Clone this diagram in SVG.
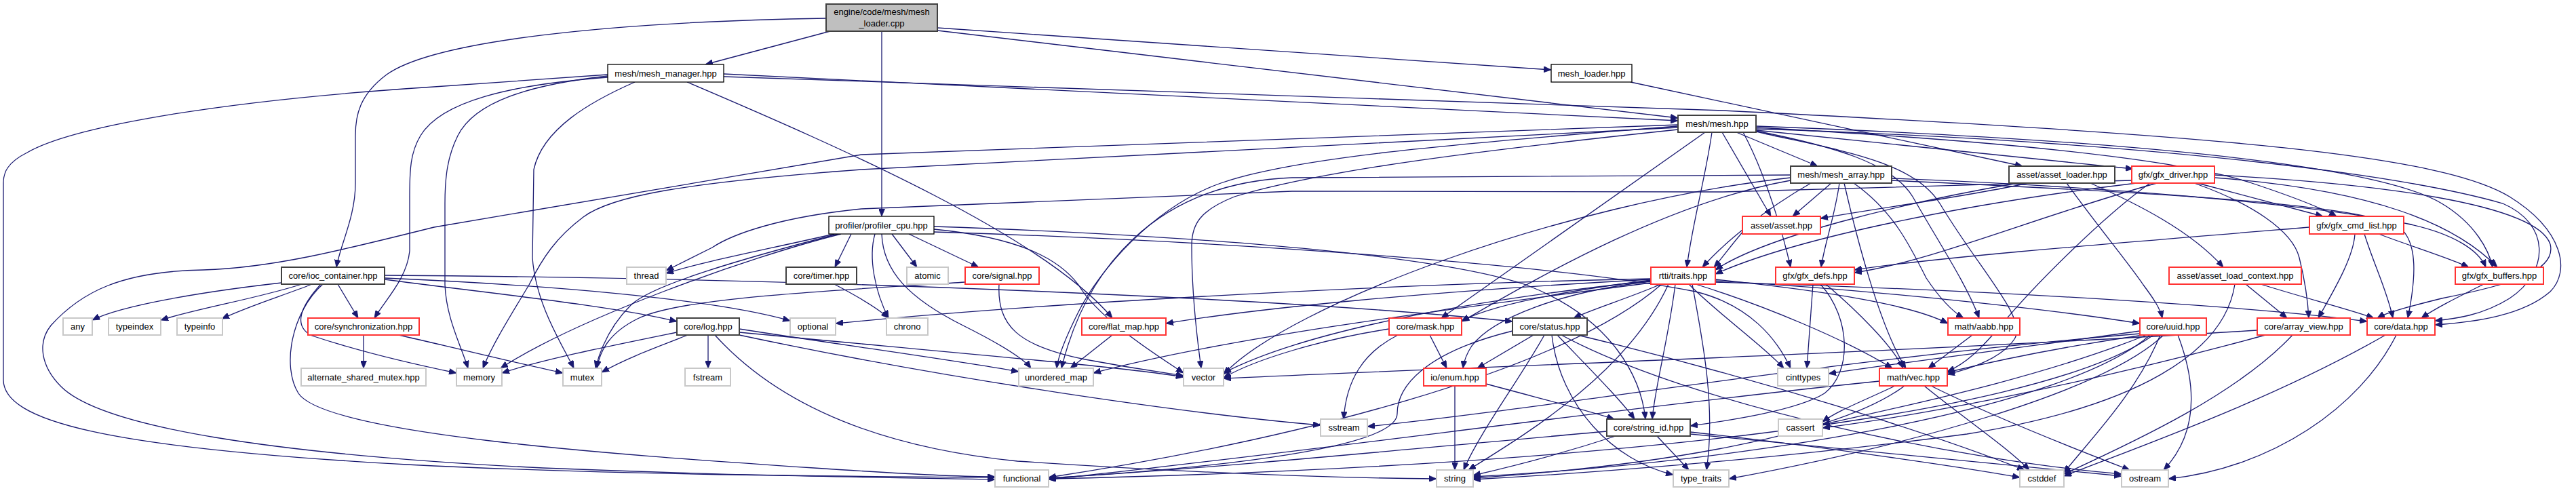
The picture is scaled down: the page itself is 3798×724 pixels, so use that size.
<svg xmlns="http://www.w3.org/2000/svg" width="3798" height="724" viewBox="0 0 3798 724">
<defs>
<marker id="ah" markerWidth="11" markerHeight="9" refX="11" refY="4.5" orient="auto" markerUnits="userSpaceOnUse"><path d="M0,0 L11,4.5 L0,9 z" fill="#191970" stroke="#191970" stroke-width="0.8"/></marker>
<style>
.e path{fill:none;stroke:#191970;stroke-width:1.3;marker-end:url(#ah)}
.d rect{fill:#fff;stroke:#404040;stroke-width:2}
.k rect{fill:#fff;stroke:#000;stroke-width:1.3}
.g rect{fill:#fff;stroke:#c8c8c8;stroke-width:2}
.r rect{fill:#fff;stroke:#ff3333;stroke-width:2}
.root rect{fill:#bfbfbf;stroke:#404040;stroke-width:2}
text{font-family:"Liberation Sans",Arial,Helvetica,sans-serif;font-size:13px;fill:#000;text-anchor:middle}
</style>
</defs>
<rect width="3798" height="724" fill="#fff"/>
<g id="edges" class="e">
<path d="M1224,46 L1040,95"/>
<path d="M1382,41 L2287,103"/>
<path d="M1382,45 L2474,174"/>
<path d="M1300,46 L1300,319"/>
<path d="M1218,27 C900,32 640,60 570,110 C530,140 524,170 524,200 L524,270 C524,320 502,360 496,394"/>
<path d="M1067,109 L2474,178"/>
<path d="M1067,113 L2540,163 C3300,200 3600,230 3700,290 C3780,340 3790,400 3760,430 C3720,465 3650,475 3590,479"/>
<path d="M896,114 C750,125 650,150 620,200 C605,225 604,250 604,290 L604,370 C600,410 570,440 552,469"/>
<path d="M896,112 C780,125 700,150 675,200 C660,230 656,260 656,300 L656,420 C658,470 680,510 690,543"/>
<path d="M936,121 C870,150 800,190 787,250 L785,380 C790,450 830,510 846,543"/>
<path d="M1013,121 C1250,222 1540,350 1640,469"/>
<path d="M896,110 L640,128 C300,150 100,190 40,225 C10,240 5,255 5,270 L5,560 C5,620 150,660 600,685 C900,700 1200,702 1467,704"/>
<path d="M2404,121 L2982,245"/>
<path d="M2560,195 L2680,245"/>
<path d="M2539,195 L2611,319"/>
<path d="M2589,192 L3145,249"/>
<path d="M2589,188 C2900,205 3200,230 3320,270 C3380,290 3420,305 3445,319"/>
<path d="M2524,195 C2515,260 2495,330 2487,394"/>
<path d="M2570,195 C2605,260 2630,350 2640,394"/>
<path d="M2589,186 C3100,205 3500,240 3600,300 C3650,330 3670,370 3675,394"/>
<path d="M2514,195 L2125,469"/>
<path d="M2589,193 C2700,215 2790,240 2820,290 C2860,360 2900,420 2918,469"/>
<path d="M2589,194 C2700,220 2820,235 2860,300 C2920,400 2990,470 2970,500 C2950,530 2900,545 2871,552"/>
<path d="M2474,188 L1270,250 C1000,270 900,290 860,320 C820,350 800,380 780,420 C750,470 725,510 712,543"/>
<path d="M2474,184 L1270,228 L640,335 C500,370 400,395 300,398 C180,400 120,430 75,480 C55,505 60,540 90,570 C150,630 400,670 800,690 C1100,702 1300,704 1467,707"/>
<path d="M2474,191 C2200,220 1950,250 1820,290 C1770,310 1757,330 1757,362 C1757,430 1765,500 1771,543"/>
<path d="M2474,186 C2100,215 1900,235 1800,270 C1700,305 1620,400 1590,460 C1570,500 1560,525 1558,543"/>
<path d="M2589,190 C3200,210 3550,260 3690,300 C3760,330 3760,400 3700,440 C3660,465 3620,470 3590,473"/>
<path d="M2700,270 L2643,319"/>
<path d="M2670,270 C2600,310 2540,360 2510,394"/>
<path d="M2712,270 C2705,320 2690,360 2685,394"/>
<path d="M2719,270 C2735,340 2770,480 2810,543"/>
<path d="M2733,270 C2790,310 2815,360 2840,410 C2860,440 2880,460 2895,469"/>
<path d="M2789,263 C3100,275 3400,300 3550,330 C3620,345 3655,370 3665,394"/>
<path d="M2640,266 C2450,300 2250,420 2155,474"/>
<path d="M2640,262 C2300,300 1900,450 1804,552"/>
<path d="M2640,258 L1905,262 C1700,270 1600,400 1565,543"/>
<path d="M2789,266 C3200,285 3450,300 3530,330 C3570,350 3560,420 3550,469"/>
<path d="M2990,270 C2900,290 2780,305 2684,322"/>
<path d="M3082,270 C3150,300 3230,340 3278,394"/>
<path d="M3047,270 C3090,330 3140,390 3160,420 C3175,440 3185,455 3188,469"/>
<path d="M2975,270 C2800,300 2600,350 2529,398"/>
<path d="M3240,270 L3425,319"/>
<path d="M3143,266 L2540,283 L1905,282 L1270,308 C1150,320 1080,345 1050,365 C1020,380 1000,390 982,399"/>
<path d="M3180,270 C3000,320 2850,385 2734,402"/>
<path d="M3150,270 C2900,300 2650,350 2529,404"/>
<path d="M3265,262 C3500,280 3620,330 3682,394"/>
<path d="M3235,270 C3320,300 3380,340 3390,380 C3400,420 3403,450 3404,469"/>
<path d="M3265,258 C3500,270 3740,300 3760,360 C3770,400 3700,420 3600,440 C3560,450 3520,460 3505,469"/>
<path d="M3170,270 C3100,320 3000,420 2950,480 C2920,515 2900,535 2871,548"/>
<path d="M1230,345 C1120,370 1040,385 982,403"/>
<path d="M1255,345 L1231,394"/>
<path d="M1315,345 L1352,394"/>
<path d="M1340,345 L1443,394"/>
<path d="M1290,345 C1280,380 1290,430 1310,469"/>
<path d="M1300,345 C1302,400 1340,440 1420,480 C1480,510 1510,530 1520,543"/>
<path d="M1240,345 C1100,380 850,470 738,543"/>
<path d="M1235,345 C1100,380 960,420 930,450 C900,480 885,515 878,543"/>
<path d="M1377,338 C1500,350 1560,380 1590,420 C1620,470 1700,520 1745,550"/>
<path d="M1377,334 C1700,345 2100,370 2250,420 C2380,470 2420,560 2426,618"/>
<path d="M1377,342 C1800,355 2300,390 2500,430 C2580,450 2620,500 2640,543"/>
<path d="M415,417 C300,430 180,450 136,472"/>
<path d="M445,419 C380,440 290,455 237,472"/>
<path d="M460,419 C420,435 370,450 327,470"/>
<path d="M498,419 L528,469"/>
<path d="M567,412 C700,430 900,450 998,474"/>
<path d="M567,410 C800,420 1050,440 1165,473"/>
<path d="M567,406 C1200,410 1900,440 2230,474"/>
<path d="M473,419 C445,450 430,480 460,495 C520,515 600,535 673,550"/>
<path d="M476,419 C430,460 415,540 440,580 C480,640 900,670 1200,690 C1350,700 1420,703 1467,703"/>
<path d="M536,494 L536,543"/>
<path d="M588,494 C680,515 760,535 830,550"/>
<path d="M1230,419 C1270,440 1295,455 1310,469"/>
<path d="M1473,419 C1470,480 1500,510 1600,530 C1680,545 1720,550 1745,554"/>
<path d="M1423,416 C1200,430 1000,440 940,470 C900,490 885,515 880,543"/>
<path d="M998,490 C900,510 800,530 740,550"/>
<path d="M1014,494 C960,515 920,530 887,549"/>
<path d="M1044,494 L1044,543"/>
<path d="M1054,494 C1150,600 1300,660 1500,680 C1800,700 2000,705 2118,706"/>
<path d="M1090,485 C1250,510 1400,530 1502,548"/>
<path d="M1090,490 C1400,520 1650,540 1745,556"/>
<path d="M1090,494 C1400,560 1750,610 1947,627"/>
<path d="M2434,412 C2100,430 1850,455 1719,477"/>
<path d="M2434,413 C2300,430 2200,450 2155,473"/>
<path d="M2449,419 C2400,440 2350,455 2320,469"/>
<path d="M2434,415 C2300,430 2200,470 2170,510 C2160,525 2158,535 2157,543"/>
<path d="M2434,411 C2000,420 1500,450 1232,477"/>
<path d="M2529,412 C2700,430 2820,450 2872,477"/>
<path d="M2500,419 C2600,450 2720,500 2790,543"/>
<path d="M2529,414 C2800,430 3050,460 3155,477"/>
<path d="M2529,416 C3000,430 3350,455 3490,474"/>
<path d="M2490,419 C2530,460 2600,510 2630,543"/>
<path d="M2495,419 C2510,500 2530,600 2516,693"/>
<path d="M2460,419 C2400,550 2250,640 2165,693"/>
<path d="M2434,414 C2100,450 1900,500 1804,550"/>
<path d="M2434,417 C2100,460 1800,500 1612,550"/>
<path d="M2470,419 C2460,500 2440,570 2436,618"/>
<path d="M2450,419 C2300,550 1900,650 1546,704"/>
<path d="M2673,419 L2664,543"/>
<path d="M2692,419 C2740,460 2790,510 2806,543"/>
<path d="M2684,419 C2730,470 2730,550 2690,580 C2650,605 2550,620 2492,628"/>
<path d="M3311,419 L3372,469"/>
<path d="M3333,419 C3400,440 3460,455 3500,469"/>
<path d="M3295,419 C3280,520 3150,600 2900,640 C2600,680 2300,700 2172,707"/>
<path d="M3662,419 C3620,440 3590,455 3570,469"/>
<path d="M3472,345 C3470,380 3440,430 3418,469"/>
<path d="M3486,345 C3500,390 3520,430 3528,469"/>
<path d="M3507,345 C3560,365 3610,380 3640,394"/>
<path d="M3405,335 C3100,360 2850,380 2734,398"/>
<path d="M2590,319 C2560,350 2540,380 2527,394"/>
<path d="M1640,494 L1578,543"/>
<path d="M2108,494 L2133,543"/>
<path d="M2061,494 C2010,520 1985,560 1981,618"/>
<path d="M2048,485 C1950,500 1850,530 1804,557"/>
<path d="M2261,494 L2178,543"/>
<path d="M2296,494 C2340,540 2390,590 2410,618"/>
<path d="M2277,494 C2240,560 2180,640 2158,693"/>
<path d="M2288,494 C2300,600 2380,680 2467,700"/>
<path d="M2230,488 C2100,520 2060,570 2060,610 C2060,660 1800,690 1546,705"/>
<path d="M2326,494 C2600,560 2850,640 2985,693"/>
<path d="M2302,494 C2500,600 2900,680 3128,699"/>
<path d="M2908,494 L2843,543"/>
<path d="M3155,488 C3000,510 2800,535 2696,551"/>
<path d="M3160,494 C3050,510 2950,530 2871,549"/>
<path d="M3165,494 C3000,560 2800,600 2687,626"/>
<path d="M3170,494 C3050,600 2600,680 2172,703"/>
<path d="M3175,494 C3000,620 2300,690 1546,706"/>
<path d="M3211,494 C3240,570 3240,640 3190,693"/>
<path d="M3185,494 C3150,580 3080,650 3043,697"/>
<path d="M3155,492 C2700,530 2300,600 2016,629"/>
<path d="M3190,494 C3100,580 2800,660 2549,706"/>
<path d="M3380,494 C3300,580 3150,650 3043,699"/>
<path d="M3328,487 C2800,520 2200,540 1804,558"/>
<path d="M3340,494 C3100,560 2850,610 2687,631"/>
<path d="M3533,494 C3480,600 3350,690 3197,706"/>
<path d="M3517,494 C3350,590 3150,660 3043,702"/>
<path d="M2145,569 L2145,693"/>
<path d="M2191,566 C2280,590 2340,605 2380,618"/>
<path d="M2794,569 C2750,590 2710,605 2687,622"/>
<path d="M2837,569 C2900,620 2960,660 2992,693"/>
<path d="M2847,569 C2950,620 3080,670 3140,693"/>
<path d="M2771,562 C2400,600 1900,670 1546,707"/>
<path d="M2808,569 C2700,650 2400,690 2172,705"/>
<path d="M2382,643 C2300,670 2220,690 2172,701"/>
<path d="M2369,636 C2100,660 1800,690 1546,705"/>
<path d="M2443,643 L2490,693"/>
<path d="M2492,637 C2700,660 2900,690 2978,704"/>
<path d="M2492,640 C2800,670 3000,690 3128,702"/>
</g>
<g id="node-mesh-loader-cpp" class="root"><rect x="1218" y="6" width="164" height="40"/><text x="1300" y="22">engine/code/mesh/mesh</text><text x="1300" y="39">_loader.cpp</text></g>
<g id="node-mesh-manager" class="k"><rect x="896" y="95" width="171" height="26"/><text x="981.5" y="113">mesh/mesh_manager.hpp</text></g>
<g id="node-mesh-loader-hpp" class="k"><rect x="2287" y="95" width="119" height="26"/><text x="2346.5" y="113">mesh_loader.hpp</text></g>
<g id="node-mesh" class="d"><rect x="2474" y="170" width="115" height="25"/><text x="2531.5" y="187">mesh/mesh.hpp</text></g>
<g id="node-mesh-array" class="d"><rect x="2640" y="245" width="149" height="25"/><text x="2714.5" y="262">mesh/mesh_array.hpp</text></g>
<g id="node-asset-loader" class="d"><rect x="2962" y="245" width="156" height="25"/><text x="3040" y="262">asset/asset_loader.hpp</text></g>
<g id="node-gfx-driver" class="r"><rect x="3143" y="245" width="122" height="25"/><text x="3204" y="262">gfx/gfx_driver.hpp</text></g>
<g id="node-profiler-cpu" class="k"><rect x="1222" y="319" width="155" height="26"/><text x="1299.5" y="337">profiler/profiler_cpu.hpp</text></g>
<g id="node-asset" class="r"><rect x="2569" y="319" width="115" height="26"/><text x="2626.5" y="337">asset/asset.hpp</text></g>
<g id="node-gfx-cmd-list" class="r"><rect x="3405" y="319" width="139" height="26"/><text x="3474.5" y="337">gfx/gfx_cmd_list.hpp</text></g>
<g id="node-ioc-container" class="d"><rect x="415" y="394" width="152" height="25"/><text x="491" y="411">core/ioc_container.hpp</text></g>
<g id="node-thread" class="g"><rect x="924" y="394" width="58" height="25"/><text x="953" y="411">thread</text></g>
<g id="node-timer" class="d"><rect x="1159" y="394" width="104" height="25"/><text x="1211" y="411">core/timer.hpp</text></g>
<g id="node-atomic" class="g"><rect x="1337" y="394" width="61" height="25"/><text x="1367.5" y="411">atomic</text></g>
<g id="node-signal" class="r"><rect x="1423" y="394" width="109" height="25"/><text x="1477.5" y="411">core/signal.hpp</text></g>
<g id="node-traits" class="r"><rect x="2434" y="394" width="95" height="25"/><text x="2481.5" y="411">rtti/traits.hpp</text></g>
<g id="node-gfx-defs" class="r"><rect x="2618" y="394" width="116" height="25"/><text x="2676" y="411">gfx/gfx_defs.hpp</text></g>
<g id="node-asset-load-context" class="r"><rect x="3198" y="394" width="195" height="25"/><text x="3295.5" y="411">asset/asset_load_context.hpp</text></g>
<g id="node-gfx-buffers" class="r"><rect x="3620" y="394" width="130" height="25"/><text x="3685" y="411">gfx/gfx_buffers.hpp</text></g>
<g id="node-any" class="g"><rect x="93" y="469" width="43" height="25"/><text x="114.5" y="486">any</text></g>
<g id="node-typeindex" class="g"><rect x="160" y="469" width="77" height="25"/><text x="198.5" y="486">typeindex</text></g>
<g id="node-typeinfo" class="g"><rect x="261" y="469" width="67" height="25"/><text x="294.5" y="486">typeinfo</text></g>
<g id="node-synchronization" class="r"><rect x="454" y="469" width="164" height="25"/><text x="536" y="486">core/synchronization.hpp</text></g>
<g id="node-log" class="d"><rect x="998" y="469" width="92" height="25"/><text x="1044" y="486">core/log.hpp</text></g>
<g id="node-optional" class="g"><rect x="1165" y="469" width="67" height="25"/><text x="1198.5" y="486">optional</text></g>
<g id="node-chrono" class="g"><rect x="1307" y="469" width="61" height="25"/><text x="1337.5" y="486">chrono</text></g>
<g id="node-flat-map" class="r"><rect x="1595" y="469" width="124" height="25"/><text x="1657" y="486">core/flat_map.hpp</text></g>
<g id="node-mask" class="r"><rect x="2048" y="469" width="107" height="25"/><text x="2101.5" y="486">core/mask.hpp</text></g>
<g id="node-status" class="d"><rect x="2230" y="469" width="110" height="25"/><text x="2285" y="486">core/status.hpp</text></g>
<g id="node-aabb" class="r"><rect x="2872" y="469" width="106" height="25"/><text x="2925" y="486">math/aabb.hpp</text></g>
<g id="node-uuid" class="r"><rect x="3155" y="469" width="98" height="25"/><text x="3204" y="486">core/uuid.hpp</text></g>
<g id="node-array-view" class="r"><rect x="3328" y="469" width="137" height="25"/><text x="3396.5" y="486">core/array_view.hpp</text></g>
<g id="node-data" class="r"><rect x="3490" y="469" width="100" height="25"/><text x="3540" y="486">core/data.hpp</text></g>
<g id="node-alternate-shared-mutex" class="g"><rect x="444" y="543" width="184" height="26"/><text x="536" y="561">alternate_shared_mutex.hpp</text></g>
<g id="node-memory" class="g"><rect x="673" y="543" width="67" height="26"/><text x="706.5" y="561">memory</text></g>
<g id="node-mutex" class="g"><rect x="830" y="543" width="57" height="26"/><text x="858.5" y="561">mutex</text></g>
<g id="node-fstream" class="g"><rect x="1010" y="543" width="67" height="26"/><text x="1043.5" y="561">fstream</text></g>
<g id="node-unordered-map" class="g"><rect x="1502" y="543" width="110" height="26"/><text x="1557" y="561">unordered_map</text></g>
<g id="node-vector" class="g"><rect x="1745" y="543" width="59" height="26"/><text x="1774.5" y="561">vector</text></g>
<g id="node-enum" class="r"><rect x="2099" y="543" width="92" height="26"/><text x="2145" y="561">io/enum.hpp</text></g>
<g id="node-cinttypes" class="g"><rect x="2621" y="543" width="75" height="26"/><text x="2658.5" y="561">cinttypes</text></g>
<g id="node-vec" class="r"><rect x="2771" y="543" width="100" height="26"/><text x="2821" y="561">math/vec.hpp</text></g>
<g id="node-sstream" class="g"><rect x="1947" y="618" width="69" height="25"/><text x="1981.5" y="635">sstream</text></g>
<g id="node-string-id" class="d"><rect x="2369" y="618" width="123" height="25"/><text x="2430.5" y="635">core/string_id.hpp</text></g>
<g id="node-cassert" class="g"><rect x="2622" y="618" width="65" height="25"/><text x="2654.5" y="635">cassert</text></g>
<g id="node-functional" class="g"><rect x="1467" y="693" width="79" height="25"/><text x="1506.5" y="710">functional</text></g>
<g id="node-string" class="g"><rect x="2118" y="693" width="54" height="25"/><text x="2145" y="710">string</text></g>
<g id="node-type-traits" class="g"><rect x="2467" y="693" width="82" height="25"/><text x="2508" y="710">type_traits</text></g>
<g id="node-cstddef" class="g"><rect x="2978" y="693" width="65" height="25"/><text x="3010.5" y="710">cstddef</text></g>
<g id="node-ostream" class="g"><rect x="3128" y="693" width="69" height="25"/><text x="3162.5" y="710">ostream</text></g>
</svg>
